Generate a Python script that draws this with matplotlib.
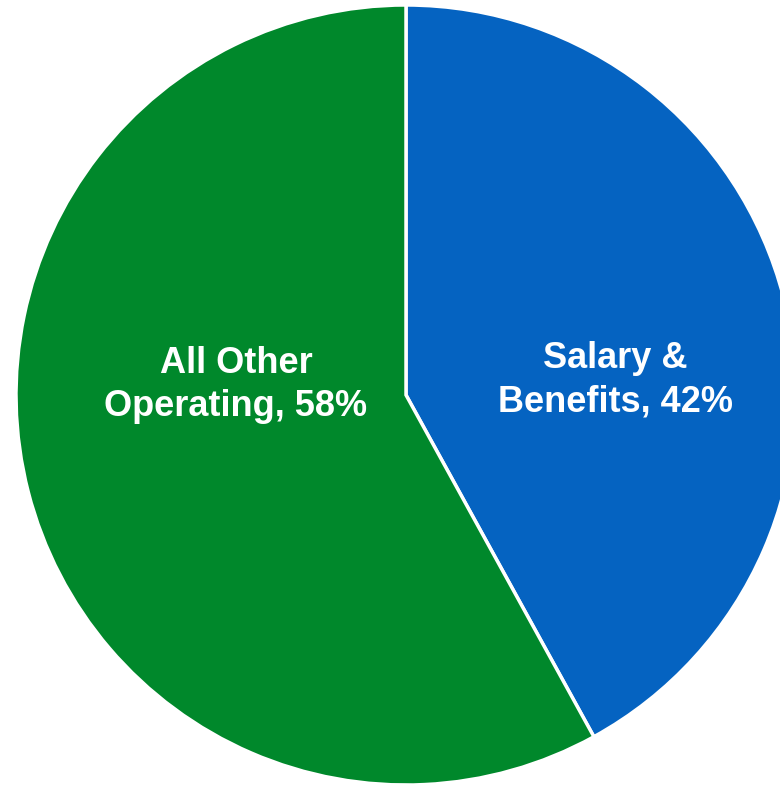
import matplotlib.pyplot as plt

categories = ["Salary &\nBenefits", "All Other\nOperating"]
shares = [42, 58]
colors = ["#0563C1", "#00882B"]

plt.rcParams['font.family'] = ['Liberation Sans', 'DejaVu Sans']

fig = plt.figure(figsize=(7.8, 7.85), dpi=100)
ax = fig.add_axes([0, 0, 1, 1])

ax.pie(shares, colors=colors, startangle=90, counterclock=False,
       center=(406, 390), radius=390,
       wedgeprops=dict(edgecolor='white', linewidth=2.5))

# pie() resets the limits, so set the pixel-like frame afterwards
ax.set_xlim(0, 780)
ax.set_ylim(0, 785)
ax.set_aspect('equal')
ax.axis('off')

# label positions inside each slice
label_xy = [(615, 405), (236, 400)]
for name, val, (x, y) in zip(categories, shares, label_xy):
    ax.text(x, y, f"{name}, {val}%", ha='center', va='center',
            color='white', fontsize=26, fontweight='bold', linespacing=1.3)

fig.savefig("out.png", dpi=100)
